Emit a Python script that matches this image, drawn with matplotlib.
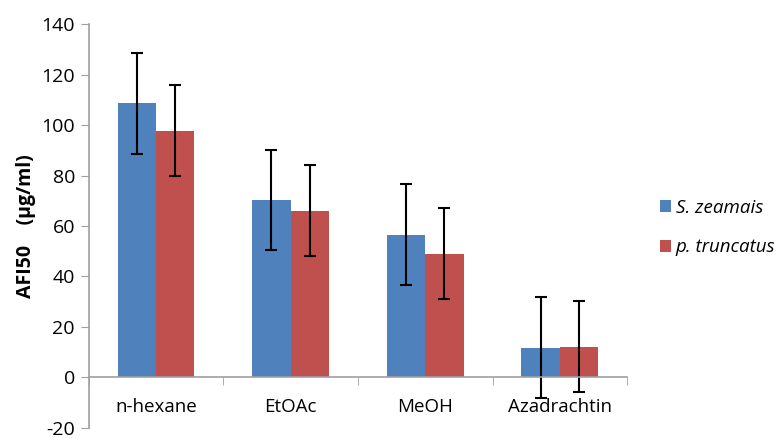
import numpy as np
import matplotlib.pyplot as plt

plt.rcParams['font.family'] = ['Open Sans', 'DejaVu Sans']
plt.rcParams['axes.unicode_minus'] = False

categories = ["n-hexane", "EtOAc", "MeOH", "Azadrachtin"]
series_names = ["S. zeamais", "p. truncatus"]
zeamais = [108.7, 70.3, 56.5, 11.8]
zeamais_err = [20, 20, 20, 20]
truncatus = [97.8, 66.0, 49.0, 12.2]
truncatus_err = [18, 18, 18, 18]
yticks = [-20, 0, 20, 40, 60, 80, 100, 120, 140]

fig = plt.figure(figsize=(7.79, 4.38), dpi=100)
ax = fig.add_axes([0.114, 0.023, 0.691, 0.922])

# spine position first, it resets the ticks
for s in ['top', 'right']:
    ax.spines[s].set_visible(False)
ax.spines['bottom'].set_position(('data', 0))
ax.spines['bottom'].set_color('#a0a0a0')
ax.spines['left'].set_color('#a0a0a0')
ax.spines['bottom'].set_linewidth(1.2)
ax.spines['left'].set_linewidth(1.2)

x = np.arange(len(categories))
w = 0.285
err_kw = dict(ecolor='black', elinewidth=1.5, capsize=4, capthick=1.5)
ax.bar(x - w / 2, zeamais, w, yerr=zeamais_err, color='#4f81bd',
       label=series_names[0], error_kw=err_kw, zorder=2)
ax.bar(x + w / 2, truncatus, w, yerr=truncatus_err, color='#c0504d',
       label=series_names[1], error_kw=err_kw, zorder=2)

ax.set_xlim(-0.5, len(categories) - 0.5)
ax.set_ylim(-20, 140)
ax.set_yticks(yticks)
ax.set_xticks(x)
ax.set_xticklabels(categories)
ax.set_xticks(np.arange(len(categories) + 1) - 0.5, minor=True)
ax.tick_params(axis='x', which='major', length=0, pad=15, labelsize=13.5)
ax.tick_params(axis='x', which='minor', length=6, color='#a0a0a0', direction='out')
ax.tick_params(axis='y', length=6, color='#a0a0a0', labelsize=14, pad=4)

ax.set_ylabel("AFI50    (\u00b5g/ml)", fontsize=14, fontweight='bold', labelpad=4)

leg = ax.legend(loc='center left', bbox_to_anchor=(1.061, 0.496), frameon=False,
                prop={'size': 13.5, 'style': 'italic'}, handlelength=0.6,
                handleheight=0.6, handletextpad=0.25, labelspacing=1.15,
                borderpad=0, borderaxespad=0)

fig.savefig("out.png", dpi=100)
